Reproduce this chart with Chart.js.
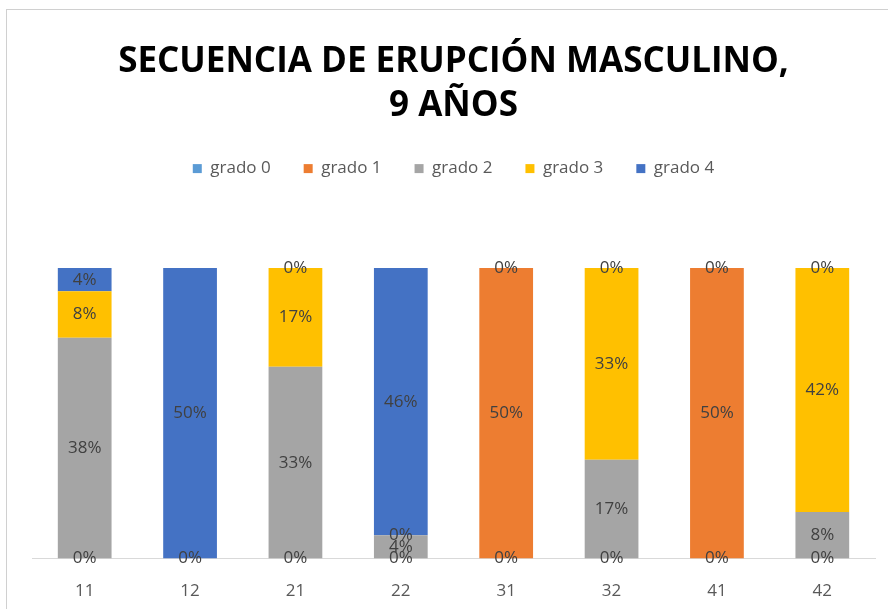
<!DOCTYPE html>
<html>
<head>
<meta charset="utf-8">
<script src="https://cdn.jsdelivr.net/npm/chart.js@4"></script>
<style>
  html, body { margin: 0; padding: 0; background: #fff; overflow: hidden; }
  #frame { position: absolute; left: 6px; top: 9px; width: 900px; height: 620px; border: 1px solid #d0d0d0; }
  #wrap { position: absolute; left: 0; top: 0; width: 888px; height: 609px; }
</style>
</head>
<body>
<div id="frame"></div>
<div id="wrap"><canvas id="chart"></canvas></div>
<script>
const categories = ['11', '12', '21', '22', '31', '32', '41', '42'];
const seriesNames = ['grado 0', 'grado 1', 'grado 2', 'grado 3', 'grado 4'];
const grado0 = [0, 0, 0, 0, 0, 0, 0, 0];
const grado1 = [null, null, null, null, 50, null, 50, null];
const grado2 = [38, null, 33, 4, null, 17, null, 8];
const grado3 = [8, null, 17, 0, 0, 33, 0, 42];
const grado4 = [4, 50, 0, 46, null, 0, null, 0];
const seriesColors = ['#5B9BD5', '#ED7D31', '#A5A5A5', '#FFC000', '#4472C4'];

// data labels in the middle of each segment
const barLabels = {
    id: 'barLabels',
    afterDatasetsDraw(chart) {
        const ctx = chart.ctx;
        ctx.save();
        ctx.font = '17px "Open Sans", sans-serif';
        ctx.fillStyle = '#404040';
        ctx.textAlign = 'center';
        ctx.textBaseline = 'middle';
        chart.data.datasets.forEach((ds, i) => {
            chart.getDatasetMeta(i).data.forEach((bar, j) => {
                const v = ds.data[j];
                if (v === null || v === undefined) return;
                ctx.fillText(v + '%', bar.x, (bar.y + bar.base) / 2);
            });
        });
        ctx.restore();
    }
};

// extra room under the legend
const legendGap = {
    id: 'legendGap',
    beforeInit(chart) {
        const fit = chart.legend.fit;
        chart.legend.fit = function () {
            fit.bind(chart.legend)();
            this.height += 81;
        };
    }
};

const allSeries = [grado0, grado1, grado2, grado3, grado4];
new Chart(document.getElementById('chart'), {
    type: 'bar',
    data: {
        labels: categories,
        datasets: seriesNames.map((name, i) => ({
            label: name,
            data: allSeries[i],
            backgroundColor: seriesColors[i],
            categoryPercentage: 1,
            barPercentage: 0.51
        }))
    },
    options: {
        responsive: true,
        maintainAspectRatio: false,
        animation: false,
        layout: { padding: { left: 32, right: 13, top: 41, bottom: -14 } },
        plugins: {
            title: {
                display: true,
                text: ['SECUENCIA DE ERUPCIÓN MASCULINO,', '9 AÑOS'],
                color: '#000',
                font: { family: '"Open Sans", sans-serif', size: 35, weight: 'bold', lineHeight: 1.23 },
                padding: { top: 0, bottom: 0 }
            },
            legend: {
                position: 'top',
                labels: {
                    boxWidth: 9,
                    boxHeight: 9,
                    color: '#595959',
                    padding: 33,
                    font: { family: '"Open Sans", sans-serif', size: 17 }
                }
            },
            tooltip: { enabled: false }
        },
        scales: {
            x: {
                stacked: true,
                grid: { display: false, drawTicks: false },
                border: { color: '#d9d9d9' },
                ticks: { color: '#595959', padding: 22, font: { family: '"Open Sans", sans-serif', size: 17 } }
            },
            y: {
                stacked: true,
                display: false,
                min: 0,
                max: 50
            }
        }
    },
    plugins: [barLabels, legendGap]
});
</script>
</body>
</html>
